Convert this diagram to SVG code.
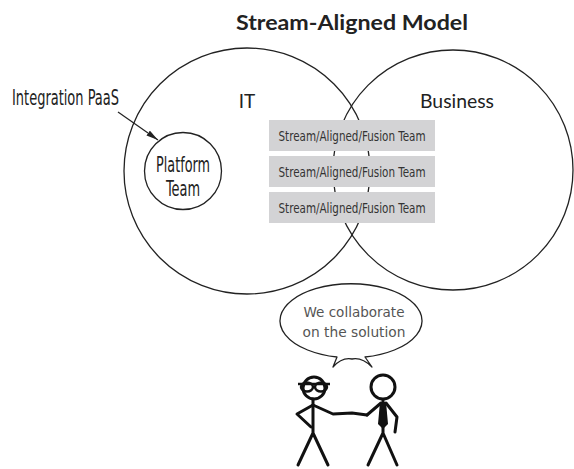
<svg xmlns="http://www.w3.org/2000/svg" width="574" height="469" viewBox="0 0 574 469">
  <style>
    .ring { fill: none; stroke: #222; stroke-width: 1.3; }
    .title { font-family: "Lato", "Liberation Sans", sans-serif; font-weight: 700; font-size: 21px; fill: #222; }
    .label { font-family: "Lato", "Liberation Sans", sans-serif; font-size: 19px; fill: #222; }
    .narrow { font-family: "Liberation Sans Narrow", "DejaVu Sans Condensed", "Liberation Sans", sans-serif; fill: #222; }
    .box { fill: #d3d3d5; }
    .boxtext { font-family: "Liberation Sans Narrow", "DejaVu Sans Condensed", "Liberation Sans", sans-serif; font-size: 14.5px; fill: #333; }
    .hand { font-family: "DejaVu Sans", "Noto Sans", sans-serif; font-size: 14px; fill: #555; }
    .stick { fill: none; stroke: #111; stroke-width: 3; stroke-linecap: round; stroke-linejoin: round; }
  </style>
  <defs>
    <marker id="arrowhead" viewBox="0 0 12 6" refX="12" refY="3" markerWidth="12" markerHeight="6" markerUnits="userSpaceOnUse" orient="auto">
      <path d="M0,0 L12,3 L0,6 Z" fill="#222"/>
    </marker>
  </defs>

  <text class="title" x="352" y="30" text-anchor="middle" textLength="232" lengthAdjust="spacingAndGlyphs">Stream-Aligned Model</text>

  <g id="it">
    <circle class="ring" cx="247" cy="171" r="123"/>
    <text class="label" x="247" y="108" text-anchor="middle">IT</text>
  </g>

  <g id="business">
    <circle class="ring" cx="453" cy="170" r="120"/>
    <text class="label" x="457" y="108" text-anchor="middle" textLength="74" lengthAdjust="spacingAndGlyphs">Business</text>
  </g>

  <g id="integration-paas">
    <text class="narrow" x="12" y="105" font-size="20.5" textLength="107" lengthAdjust="spacingAndGlyphs">Integration PaaS</text>
  </g>

  <g id="platform-team">
    <circle class="ring" cx="183" cy="171" r="38.5"/>
    <text class="narrow" x="183" y="172" font-size="21" text-anchor="middle" textLength="54" lengthAdjust="spacingAndGlyphs">Platform</text>
    <text class="narrow" x="183" y="196" font-size="21" text-anchor="middle" textLength="34" lengthAdjust="spacingAndGlyphs">Team</text>
  </g>

  <g id="stream-team-1">
    <rect class="box" x="269" y="120" width="166" height="31"/>
    <text class="boxtext" x="352" y="141" text-anchor="middle" textLength="147" lengthAdjust="spacingAndGlyphs">Stream/Aligned/Fusion Team</text>
  </g>
  <g id="stream-team-2">
    <rect class="box" x="269" y="156" width="166" height="31"/>
    <text class="boxtext" x="352" y="177" text-anchor="middle" textLength="147" lengthAdjust="spacingAndGlyphs">Stream/Aligned/Fusion Team</text>
  </g>
  <g id="stream-team-3">
    <rect class="box" x="269" y="192" width="166" height="31"/>
    <text class="boxtext" x="352" y="213" text-anchor="middle" textLength="147" lengthAdjust="spacingAndGlyphs">Stream/Aligned/Fusion Team</text>
  </g>

  <g id="connectors">
    <line x1="118" y1="112" x2="158" y2="140" stroke="#222" stroke-width="1.2" marker-end="url(#arrowhead)"/>
  </g>

  <g id="speech-bubble">
    <path class="ring" d="M337,357 A71,37 0 1 1 365,357 L372,367 Q362,357 352,359 Q342,357 333,367 Z" stroke-linejoin="round"/>
    <text class="hand" x="354" y="317" text-anchor="middle" textLength="101" lengthAdjust="spacingAndGlyphs">We collaborate</text>
    <text class="hand" x="354" y="337" text-anchor="middle" textLength="103" lengthAdjust="spacingAndGlyphs">on the solution</text>
  </g>

  <g id="person-left">
    <circle class="stick" cx="314" cy="388" r="11"/>
    <!-- glasses: bridge bar and two thick-rimmed lenses -->
    <path d="M298,384 L330,384" stroke="#111" stroke-width="2.5" fill="none"/>
    <ellipse cx="307" cy="387" rx="6" ry="4.5" fill="none" stroke="#111" stroke-width="2.5"/>
    <ellipse cx="321" cy="387" rx="6" ry="4.5" fill="none" stroke="#111" stroke-width="2.5"/>
    <path class="stick" d="M313,399 L313,433 M313,433 L298,465 M313,433 L328,465"/>
    <path class="stick" d="M313,405 L297,414 L311,427"/>
    <path class="stick" d="M313,405 L333,414 L352,413 L367,415"/>
  </g>

  <g id="person-right">
    <circle class="stick" cx="383" cy="387" r="12"/>
    <path class="stick" d="M383,400 L383,433 M383,433 L368,465 M383,433 L397,465"/>
    <path d="M380,402 L386,402 L388,424 L383,429 L378,424 Z" fill="#111"/>
    <path class="stick" d="M381,403 L367,415"/>
    <path class="stick" d="M386,403 L397,417 L395,432"/>
  </g>
</svg>
